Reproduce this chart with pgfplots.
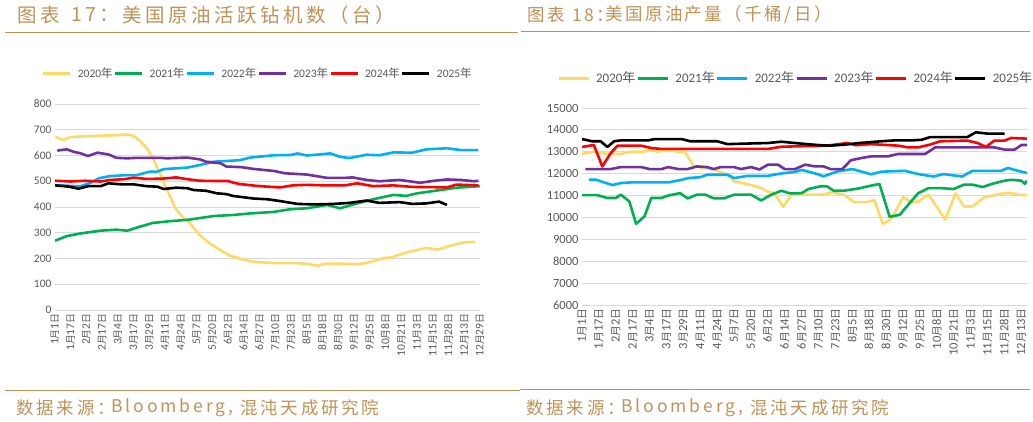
\documentclass[border=0pt]{standalone}
\usepackage{fontspec}
\setmainfont{Carlito}
\newfontfamily\cjk{Noto Sans CJK SC}
\newfontfamily\cjks[Scale=0.86]{Noto Sans CJK SC}
\newfontfamily\cjkta[LetterSpace=18]{Noto Sans CJK SC}
\newfontfamily\cjktb[LetterSpace=14]{Noto Sans CJK SC}
\newfontfamily\cjksrc[LetterSpace=16]{Noto Sans CJK SC}
\newfontfamily\latsrc[LetterSpace=17]{Noto Sans CJK SC}
\usepackage{pgfplots}
\pgfplotsset{compat=1.18}

\definecolor{c20}{RGB}{255,217,102}
\definecolor{c21}{RGB}{0,176,80}
\definecolor{c22}{RGB}{0,176,240}
\definecolor{c23}{RGB}{112,48,160}
\definecolor{c24}{RGB}{255,0,0}
\definecolor{c25}{RGB}{0,0,0}
\definecolor{titlec}{RGB}{192,146,86}
\definecolor{gridc}{RGB}{217,217,217}
\definecolor{tickc}{RGB}{89,89,89}

% month-day tick label
\newcommand\md[2]{#1{\cjks 月}#2{\cjks 日}}

\pgfplotsset{
  oil/.style={
    scale only axis,
    axis line style={draw=none},
    major tick length=0pt,
    ymajorgrids,
    grid style={gridc, line width=0.9pt},
    enlarge x limits=false,
    scaled y ticks=false,
    yticklabel style={text=tickc},
    xticklabel style={rotate=90, anchor=east, text=tickc},
    /pgf/number format/assume math mode=true,
    /pgf/number format/1000 sep={},
    legend columns=6,
    legend style={draw=none, fill=none, text=tickc, anchor=center,
      nodes={inner sep=1pt},
      /tikz/every odd column/.append style={column sep=5pt}},
    every axis plot/.append style={line width=2.6pt, line join=round},
  }
}

\begin{document}
\begin{tikzpicture}[x=1pt,y=1pt]
\useasboundingbox (0,0) rectangle (1033,421);

% titles and rules
\begin{scope}[every node/.style={anchor=west, text=titlec, inner sep=0pt}]
\node[font=\cjkta\fontsize{19.5}{20}\selectfont] at (17,406) {图表};
\node[font=\cjkta\fontsize{19.5}{20}\selectfont] at (71,406) {17：};
\node[font=\cjkta\fontsize{19.5}{20}\selectfont] at (122,406) {美国原油活跃钻机数（台）};
\node[font=\cjktb\fontsize{17.5}{18}\selectfont] at (527,406) {图表};
\node[font=\cjktb\fontsize{17.5}{18}\selectfont] at (572,406) {18：};
\node[font=\cjktb\fontsize{17.5}{18}\selectfont] at (605,406) {美国原油产量（千桶/日）};
\foreach \dx in {0,510} {
  \node[font=\cjksrc\fontsize{17.5}{18}\selectfont] at (16+\dx,13) {数据来源：};
  \node[font=\latsrc\fontsize{17.5}{18}\selectfont] at (111+\dx,13) {Bloomberg,};
  \node[font=\cjksrc\fontsize{17.5}{18}\selectfont] at (240+\dx,13) {混沌天成研究院};
}
\end{scope}
\draw[titlec, line width=1pt] (5,388) -- (518,388);
\draw[titlec, line width=1pt] (521,389) -- (1030,389);
\draw[titlec, line width=1pt] (5,31) -- (520,31);
\draw[titlec, line width=1pt] (520,32) -- (1030,32);

% left chart: rigs
\begin{axis}[oil,
  at={(55pt,111pt)}, anchor=south west,
  width=425pt, height=206pt,
  xmin=0, xmax=27, ymin=0, ymax=800,
  ytick={0,100,...,800},
  xtick={0,...,27},
  xticklabels={\md{1}{1},\md{1}{17},\md{2}{2},\md{2}{17},\md{3}{4},\md{3}{17},\md{3}{29},\md{4}{11},\md{4}{24},\md{5}{7},\md{5}{20},\md{6}{2},\md{6}{14},\md{6}{27},\md{7}{10},\md{7}{23},\md{8}{5},\md{8}{18},\md{8}{30},\md{9}{12},\md{9}{25},\md{10}{8},\md{10}{21},\md{11}{3},\md{11}{15},\md{11}{28},\md{12}{13},\md{12}{29}},
  yticklabel style={font=\fontsize{11.5}{12}\selectfont},
  xticklabel style={font=\fontsize{11.5}{12}\selectfont},
  legend style={at={(0.476,1.15)}, font=\fontsize{11.5}{12}\selectfont},
  legend image code/.code={\draw[#1, line width=3pt] (0pt,0pt) -- (27pt,0pt);},
]
\addplot[c20] coordinates {(0,673) (0.5,660) (1,672) (2,675) (3,677) (4,679) (4.6,682) (5,676) (5.4,657) (5.8,630) (6.2,592) (6.6,540) (7.1,468) (7.7,390) (8.1,362) (8.6,335) (9.2,290) (9.85,258) (10.5,233) (11.1,212) (11.8,198) (12.6,187) (13.9,182) (15.4,182) (16.1,178) (16.7,172) (17.2,180) (18.1,180) (19.3,178) (20,186) (20.6,197) (21.5,207) (22.3,223) (23.6,241) (24.3,234) (24.9,246) (25.9,262) (26.7,265)};
\addplot[c21] coordinates {(0,269) (0.75,287) (1.6,297) (2.86,308) (3.9,312) (4.6,308) (5.2,320) (6.2,338) (7.3,345) (8.4,350) (10.1,365) (11.3,369) (12.4,375) (13.9,381) (14.9,391) (16,395) (17.3,408) (18.1,395) (19.2,414) (20.2,430) (21.5,447) (22.3,443) (23,453) (24.5,466) (25.5,475) (27,481)};
\addplot[c22] coordinates {(0,485) (1,482) (1.6,480) (2.3,495) (2.8,512) (3.5,520) (4.6,524) (5.2,524) (6,537) (6.5,537) (6.9,547) (8.4,553) (9.2,563) (10.1,576) (11.3,580) (11.75,582) (12.4,592) (13.9,601) (15,602) (15.4,608) (16,600) (17.5,608) (18.1,595) (18.7,590) (19.8,603) (20.6,601) (21.5,612) (22.7,611) (23.6,624) (24.9,628) (25.8,621) (26.9,621)};
\addplot[c23] coordinates {(0.15,619) (0.75,624) (1.2,614) (1.6,609) (2.1,598) (2.7,611) (3.4,604) (3.9,591) (4.6,589) (5.2,591) (6.7,591) (7.1,589) (8.4,592) (9.2,585) (9.6,576) (10.5,570) (10.9,557) (11.8,555) (12.6,548) (13.9,540) (14.6,531) (16,526) (17.3,513) (18.4,513) (18.9,515) (19.8,505) (20.6,500) (21.9,505) (23.2,494) (24.1,502) (24.9,507) (25.8,505) (26.6,500) (26.9,502)};
\addplot[c24] coordinates {(0,502) (1,499) (1.9,502) (2.9,499) (3.5,505) (4.4,508) (5,514) (5.8,509) (6.8,510) (7.7,515) (8.4,508) (9.2,502) (10.1,501) (11,501) (11.3,495) (11.75,489) (13,481) (14.3,476) (15.1,484) (15.9,486) (17.3,484) (18.4,484) (19.2,492) (20.2,481) (21.5,484) (22.7,478) (24.1,477) (24.9,476) (25.5,487) (26.9,484)};
\addplot[c25] coordinates {(0,484) (0.9,479) (1.5,471) (2.1,481) (2.9,481) (3.4,492) (4.2,488) (5,488) (5.8,481) (6.5,479) (6.9,470) (7.7,475) (8.4,473) (8.8,466) (9.6,463) (10.3,453) (10.9,450) (11.3,443) (12.1,437) (12.6,433) (13.5,430) (14.2,424) (15.4,412) (16.5,410) (17.7,412) (18.7,416) (19.8,425) (20.6,416) (21.9,419) (22.7,412) (23.6,414) (24.4,421) (24.9,408)};
\legend{2020{\cjk 年},2021{\cjk 年},2022{\cjk 年},2023{\cjk 年},2024{\cjk 年},2025{\cjk 年}}
\end{axis}

% right chart: production
\begin{axis}[oil,
  at={(582pt,116pt)}, anchor=south west,
  width=445pt, height=197pt,
  xmin=0, xmax=26.33, ymin=6000, ymax=15000,
  ytick={6000,7000,...,15000},
  xtick={0,...,26},
  xticklabels={\md{1}{1},\md{1}{17},\md{2}{2},\md{2}{17},\md{3}{4},\md{3}{17},\md{3}{29},\md{4}{11},\md{4}{24},\md{5}{7},\md{5}{20},\md{6}{2},\md{6}{14},\md{6}{27},\md{7}{10},\md{7}{23},\md{8}{5},\md{8}{18},\md{8}{30},\md{9}{12},\md{9}{25},\md{10}{8},\md{10}{21},\md{11}{3},\md{11}{15},\md{11}{28},\md{12}{13}},
  yticklabel style={font=\fontsize{12.5}{13}\selectfont},
  xticklabel style={font=\fontsize{12.5}{13}\selectfont},
  legend style={at={(0.479,1.152)}, font=\fontsize{13}{14}\selectfont},
  legend image code/.code={\draw[#1, line width=3pt] (0pt,0pt) -- (30pt,0pt);},
]
\addplot[c20] coordinates {(0,12900) (0.7,13000) (1.5,12900) (2.3,12900) (2.9,13000) (3.7,13000) (4,13100) (4.5,13000) (5.1,13100) (5.7,13000) (6.1,13000) (6.6,12350) (7,12280) (7.8,12200) (8.6,11950) (9,11650) (10,11480) (10.6,11340) (11,11180) (11.4,11100) (11.9,10480) (12.4,11040) (14.2,11040) (14.8,11140) (15.5,11040) (16.1,10700) (16.9,10700) (17.3,10800) (17.8,9700) (18.3,9940) (19,10920) (19.5,10690) (19.9,10730) (20.5,11040) (21.5,9900) (22.1,11110) (22.6,10500) (23.1,10500) (23.8,10920) (25,11110) (25.4,11110) (26,11020) (26.33,11020)};
\addplot[c21] coordinates {(0,11020) (0.9,11020) (1.5,10890) (2,10890) (2.3,11040) (2.8,10730) (3.2,9710) (3.7,10050) (4.1,10890) (4.7,10890) (5.1,11000) (5.8,11110) (6.25,10870) (6.8,11040) (7.3,11040) (7.8,10870) (8.4,10870) (9,11040) (10,11040) (10.6,10780) (11.2,11040) (11.8,11220) (12.3,11100) (13,11110) (13.4,11300) (14.1,11420) (14.5,11420) (14.9,11220) (15.5,11220) (16.4,11330) (16.9,11420) (17.6,11530) (18.2,10030) (18.8,10120) (19.3,10580) (19.9,11110) (20.5,11340) (21.2,11340) (22,11300) (22.6,11500) (23.1,11500) (23.7,11390) (24.3,11540) (25,11680) (25.4,11720) (26,11680) (26.2,11540) (26.33,11680)};
\addplot[c22] coordinates {(0.4,11720) (0.85,11720) (1.3,11600) (1.8,11480) (2.3,11570) (2.9,11600) (5.1,11600) (5.9,11720) (6.3,11800) (7,11840) (7.4,11950) (8.6,11950) (9,11800) (9.8,11900) (11,11900) (11.8,12010) (12.6,12080) (13,12170) (13.8,12010) (14.3,11880) (15.1,12100) (15.9,12200) (16.1,12190) (17.1,11970) (17.7,12090) (19.1,12130) (19.9,11980) (20.8,11870) (21.4,11980) (22.5,11870) (23.1,12130) (24.8,12130) (25.2,12260) (25.8,12130) (26.33,12030)};
\addplot[c23] coordinates {(0.2,12210) (1.7,12210) (2.3,12300) (3.5,12300) (4,12210) (4.7,12210) (5.1,12300) (5.7,12210) (6.25,12210) (6.8,12330) (7.4,12300) (7.8,12210) (8.2,12300) (9,12300) (9.4,12210) (10,12300) (10.5,12190) (11,12410) (11.6,12410) (12,12210) (12.6,12210) (13.2,12410) (13.8,12330) (14.3,12330) (14.7,12210) (15.4,12210) (15.9,12610) (16.5,12710) (17.1,12790) (18.1,12790) (18.7,12900) (20.3,12900) (20.9,13200) (24.4,13200) (25,13100) (25.6,13100) (26,13310) (26.33,13310)};
\addplot[c24] coordinates {(0,13220) (0.7,13310) (1.2,12330) (1.7,12940) (2.1,13280) (3.5,13280) (4.1,13170) (4.7,13130) (11,13130) (11.8,13230) (13.2,13260) (14.4,13270) (15.7,13400) (16.2,13300) (17.1,13350) (18.7,13280) (19.3,13200) (19.9,13200) (20.6,13330) (21.2,13480) (22.8,13510) (23.4,13400) (23.9,13220) (24.4,13510) (25,13510) (25.4,13630) (26.33,13600)};
\addplot[c25] coordinates {(0,13580) (0.6,13480) (1.1,13480) (1.5,13220) (1.9,13480) (2.3,13520) (3.9,13520) (4.3,13580) (5.9,13580) (6.4,13480) (8,13480) (8.6,13350) (10,13380) (11,13400) (11.8,13460) (12.6,13400) (13.3,13350) (14.1,13300) (14.7,13280) (15.6,13330) (16.4,13400) (17.7,13480) (18.5,13520) (19.5,13520) (20.1,13550) (20.6,13670) (22.8,13670) (23.3,13890) (24,13830) (25,13830)};
\legend{2020{\cjk 年},2021{\cjk 年},2022{\cjk 年},2023{\cjk 年},2024{\cjk 年},2025{\cjk 年}}
\end{axis}
\end{tikzpicture}
\end{document}
